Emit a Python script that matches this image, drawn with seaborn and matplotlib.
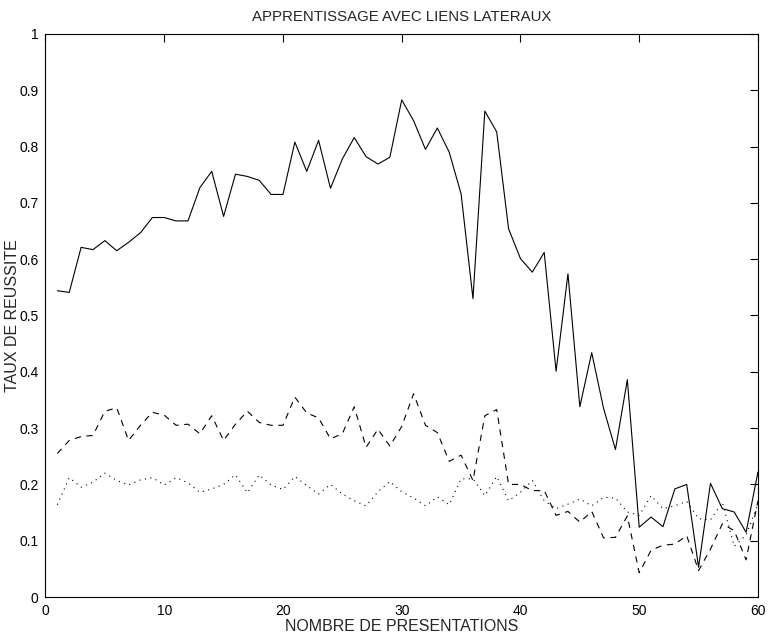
import numpy as np
import pandas as pd
import matplotlib
matplotlib.use("Agg")
import matplotlib.pyplot as plt
import seaborn as sns

# nombre de presentations
presentations = list(range(1, 61))

# taux de reussite, trait plein
taux_plein = [0.544, 0.541, 0.621, 0.617, 0.633, 0.615, 0.630, 0.647, 0.674, 0.674,
              0.668, 0.668, 0.727, 0.756, 0.676, 0.751, 0.747, 0.740, 0.715, 0.715,
              0.808, 0.756, 0.811, 0.726, 0.778, 0.816, 0.782, 0.769, 0.781, 0.883,
              0.846, 0.795, 0.833, 0.790, 0.716, 0.530, 0.863, 0.826, 0.654, 0.601,
              0.577, 0.612, 0.401, 0.574, 0.338, 0.434, 0.335, 0.262, 0.386, 0.124,
              0.142, 0.125, 0.192, 0.200, 0.053, 0.202, 0.157, 0.151, 0.115, 0.222]

# tirets
taux_tirets = [0.255, 0.278, 0.285, 0.287, 0.330, 0.336, 0.278, 0.305, 0.328, 0.323,
               0.305, 0.307, 0.290, 0.322, 0.278, 0.307, 0.330, 0.310, 0.305, 0.305,
               0.355, 0.327, 0.318, 0.281, 0.290, 0.338, 0.266, 0.298, 0.268, 0.303,
               0.361, 0.305, 0.292, 0.241, 0.252, 0.207, 0.322, 0.333, 0.200, 0.200,
               0.189, 0.189, 0.145, 0.152, 0.133, 0.152, 0.105, 0.106, 0.144, 0.043,
               0.083, 0.092, 0.094, 0.109, 0.047, 0.085, 0.130, 0.118, 0.066, 0.171]

# pointilles
taux_points = [0.164, 0.212, 0.195, 0.204, 0.220, 0.207, 0.199, 0.208, 0.212, 0.199,
               0.212, 0.203, 0.186, 0.192, 0.200, 0.217, 0.185, 0.217, 0.199, 0.191,
               0.214, 0.198, 0.183, 0.200, 0.183, 0.171, 0.162, 0.187, 0.205, 0.187,
               0.176, 0.162, 0.178, 0.164, 0.210, 0.210, 0.180, 0.214, 0.171, 0.186,
               0.207, 0.171, 0.157, 0.165, 0.174, 0.162, 0.177, 0.176, 0.151, 0.145,
               0.180, 0.157, 0.162, 0.170, 0.139, 0.137, 0.168, 0.090, 0.110, 0.165]

x_ticks = [0, 10, 20, 30, 40, 50, 60]
y_ticks = [0, 0.1, 0.2, 0.3, 0.4, 0.5, 0.6, 0.7, 0.8, 0.9, 1]
y_labels = ["0", "0.1", "0.2", "0.3", "0.4", "0.5", "0.6", "0.7", "0.8", "0.9", "1"]

sns.set_style("white")
plt.rcParams['font.family'] = ['Liberation Sans', 'DejaVu Sans']
plt.rcParams['lines.scale_dashes'] = False

df = pd.DataFrame({'n': presentations, 'plein': taux_plein,
                   'tirets': taux_tirets, 'points': taux_points})

fig = plt.figure(figsize=(7.75, 6.35), dpi=100)
ax = fig.add_axes([0.0587, 0.0598, 0.9193, 0.8867])

sns.lineplot(data=df, x='n', y='plein', ax=ax, color='black', linewidth=0.8)
sns.lineplot(data=df, x='n', y='tirets', ax=ax, color='black', linewidth=0.8,
             linestyle=(0, (4.5, 4.0)))
sns.lineplot(data=df, x='n', y='points', ax=ax, color='black', linewidth=0.8,
             linestyle=(0, (0.8, 3.2)))

ax.set_xlim(0, 60)
ax.set_ylim(0, 1)
ax.set_xticks(x_ticks)
ax.set_xticklabels([str(t) for t in x_ticks])
ax.set_yticks(y_ticks)
ax.set_yticklabels(y_labels)
ax.tick_params(direction='in', length=6, width=0.8, top=True, right=True,
               labelsize=10, pad=5, colors='black')
for s in ax.spines.values():
    s.set_color('black')
    s.set_linewidth(0.8)

ax.set_title("APPRENTISSAGE AVEC LIENS LATERAUX", fontsize=10.8, pad=9)
ax.set_xlabel("NOMBRE DE PRESENTATIONS", fontsize=11.5, labelpad=1)
ax.set_ylabel("TAUX DE REUSSITE", fontsize=11.5)
ax.yaxis.set_label_coords(-0.036, 0.5)

fig.savefig("out.png", dpi=100)
